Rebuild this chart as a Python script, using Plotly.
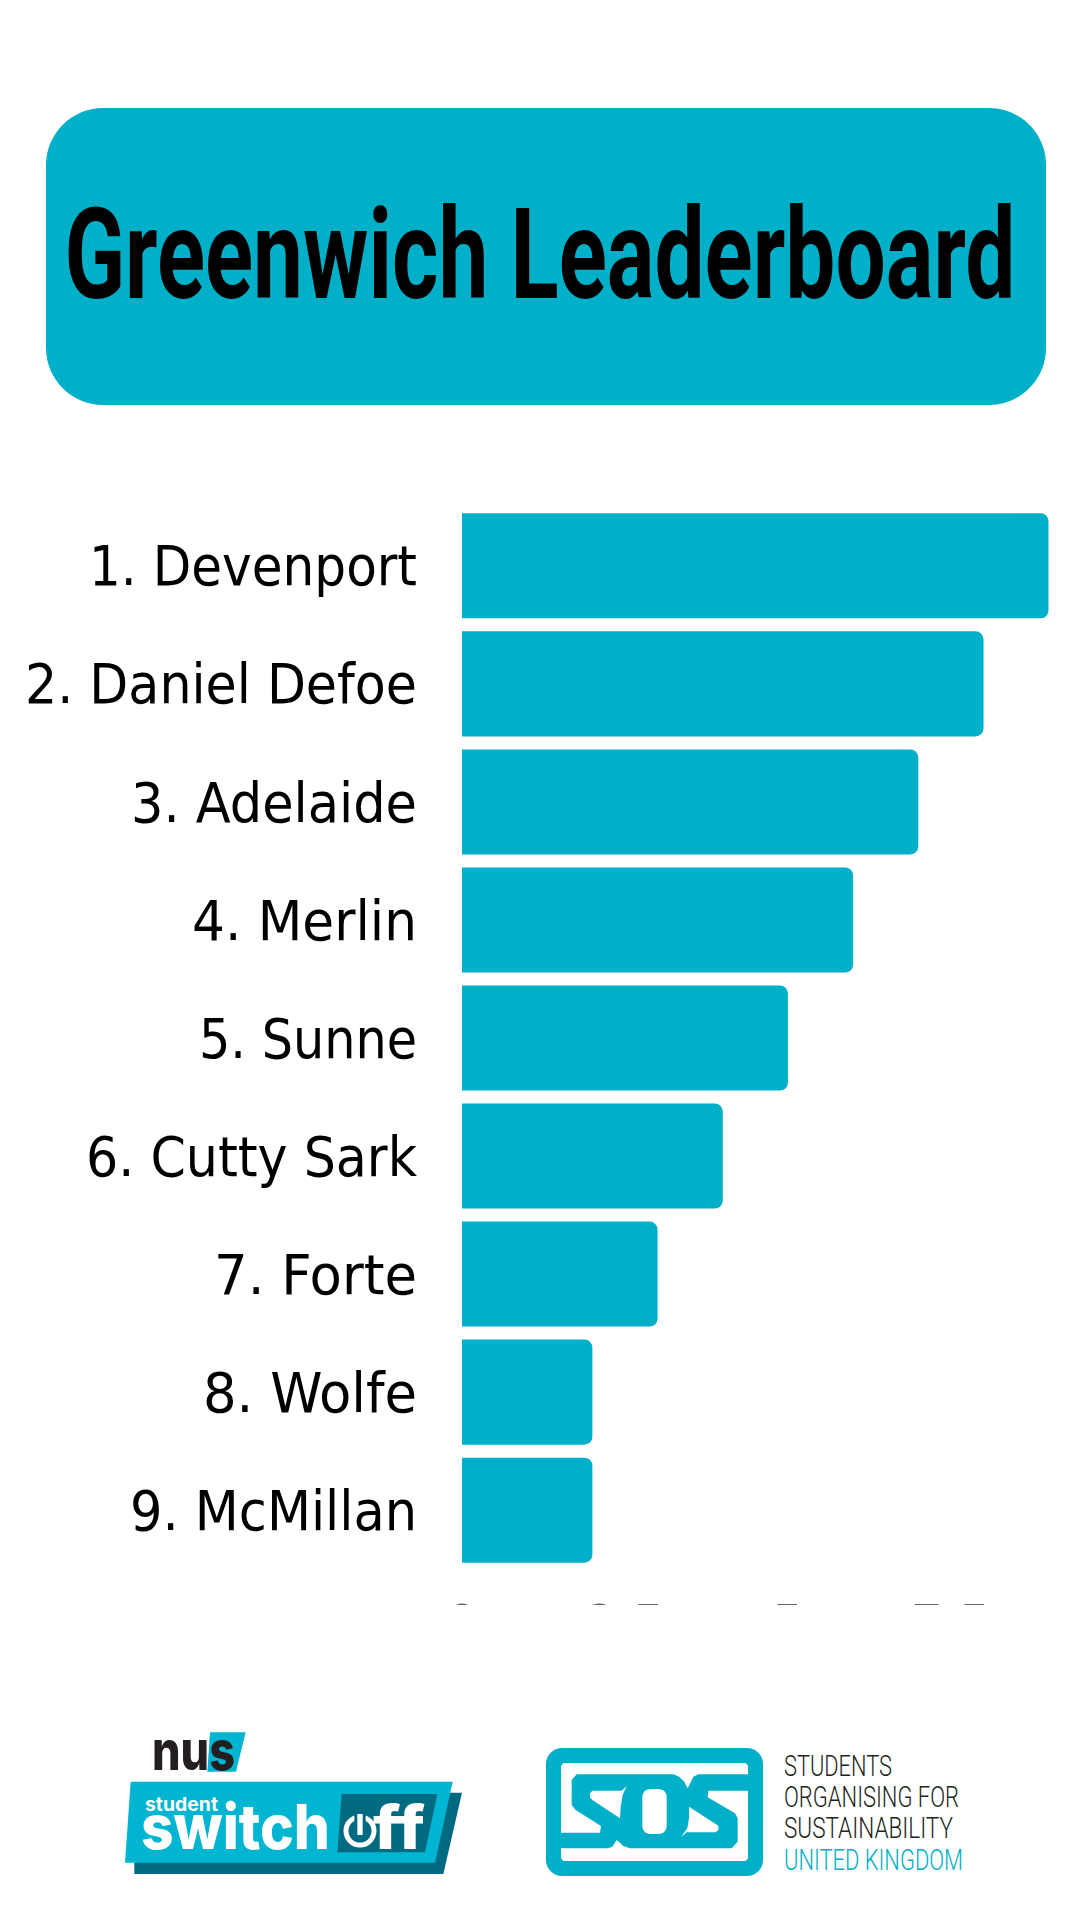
import plotly.graph_objects as go

W, H = 1080, 1920
TEAL = "#00AFC8"
BAND = "#00B5D1"
DARK = "#006A80"

names = ["1. Devenport", "2. Daniel Defoe", "3. Adelaide", "4. Merlin", "5. Sunne",
         "6. Cutty Sark", "7. Forte", "8. Wolfe", "9. McMillan"]
scores = [9, 8, 7, 6, 5, 4, 3, 2, 2]
score_ticks = [0, 2.5, 5, 7.5]
score_tick_labels = ["0", "2.5", "5", "7.5"]
sos_lines = ["STUDENTS", "ORGANISING FOR", "SUSTAINABILITY", "UNITED KINGDOM"]

LABEL_FONT = "DejaVu Sans Condensed, DejaVu Sans"

# pixel widths of the lettering, the original faces are not installed here
fit_widths = {
    "Greenwich Leaderboard": 951, "nus": 83, "student": 73, "switch": 189, "ff": 52,
    "STUDENTS": 108, "ORGANISING FOR": 175, "SUSTAINABILITY": 169, "UNITED KINGDOM": 179,
    "1. Devenport": 328, "2. Daniel Defoe": 392, "3. Adelaide": 286, "4. Merlin": 225,
    "5. Sunne": 218, "6. Cutty Sark": 331, "7. Forte": 203, "8. Wolfe": 214, "9. McMillan": 287,
}


def px(x):
    return x / W


def py(y):
    return 1 - y / H


# logo artwork is traced in crop coordinates, so each call gets the crop origin
def poly(points, color, ox, oy, s=3):
    pts = [(px(ox + x / s), py(oy + y / s)) for x, y in points]
    path = "M " + " L ".join(f"{x:.5f},{y:.5f}" for x, y in pts) + " Z"
    return dict(type="path", xref="paper", yref="paper", path=path,
                fillcolor=color, line=dict(width=0), layer="above")


def round_rect(x0, y0, x1, y1, r, color):
    X0, X1, Y0, Y1 = px(x0), px(x1), py(y0), py(y1)
    rx, ry = r / W, r / H
    kx, ky = rx * 0.45, ry * 0.45  # control point inset for a near circular corner
    path = (f"M {X0 + rx},{Y0} L {X1 - rx},{Y0} C {X1 - kx},{Y0} {X1},{Y0 - ky} {X1},{Y0 - ry} "
            f"L {X1},{Y1 + ry} C {X1},{Y1 + ky} {X1 - kx},{Y1} {X1 - rx},{Y1} "
            f"L {X0 + rx},{Y1} C {X0 + kx},{Y1} {X0},{Y1 + ky} {X0},{Y1 + ry} "
            f"L {X0},{Y0 - ry} C {X0},{Y0 - ky} {X0 + kx},{Y0} {X0 + rx},{Y0} Z")
    return dict(type="path", xref="paper", yref="paper", path=path,
                fillcolor=color, line=dict(width=0), layer="above")


def label(x, y, text, size, color="#000000", family="Roboto", anchor="left", weight=400):
    return dict(x=px(x), y=py(y), xref="paper", yref="paper", text=text, showarrow=False,
                xanchor=anchor, yanchor="middle", align=anchor,
                font=dict(size=size, color=color, family=family, weight=weight),
                borderpad=0, borderwidth=0)


fig = go.Figure()
fig.add_trace(go.Bar(y=names, x=scores, orientation="h", marker=dict(color=TEAL, line=dict(width=0))))

shapes = [
    # the white block hides most of the value axis labels, as in the original
    dict(type="rect", xref="paper", yref="paper", x0=0, x1=1, y0=0, y1=py(1605),
         fillcolor="white", line=dict(width=0), layer="above"),
    round_rect(46, 108, 1046, 405, 57, TEAL),
]

# NUS student switch off logo
L = (110, 1720)
shapes += [
    poly([(300, 37), (407, 37), (378, 155), (292, 155)], BAND, *L),
    poly([(73, 420), (73, 462), (1000, 462), (1056, 218), (1000, 218)], DARK, *L),
    poly([(62, 185), (1028, 185), (975, 428), (45, 428)], BAND, *L),
    poly([(695, 222), (982, 222), (945, 397), (682, 397)], DARK, *L),
    dict(type="circle", xref="paper", yref="paper",
         x0=px(110 + 708 / 3), x1=px(110 + 792 / 3), y0=py(1720 + 375 / 3), y1=py(1720 + 291 / 3),
         line=dict(color="white", width=5), fillcolor="rgba(0,0,0,0)", layer="above"),
    poly([(733, 270), (767, 270), (767, 310), (733, 310)], DARK, *L),
    poly([(742, 282), (758, 282), (758, 345), (742, 345)], "white", *L),
]

# SOS logo
S = (555, 1760)
shapes += [
    round_rect(546, 1748, 763, 1876, 16, TEAL),
    round_rect(561, 1763, 748, 1861, 4, "white"),
    poly([(50, 60), (65, 43), (355, 43), (372, 50), (388, 65), (398, 85), (415, 50), (430, 43),
          (580, 43), (580, 92), (460, 92), (458, 112), (540, 160), (548, 175), (548, 245),
          (530, 265), (225, 265), (205, 258), (195, 248), (185, 240), (172, 260), (160, 265),
          (15, 265), (15, 218), (135, 218), (138, 198), (62, 150), (50, 135)], TEAL, *S),
    poly([(105, 100), (112, 92), (200, 92), (215, 78), (203, 105), (197, 140), (195, 175),
          (112, 120), (105, 112)], "white", *S),
    poly([(378, 232), (395, 217), (482, 217), (490, 210), (490, 197), (402, 140),
          (402, 175), (397, 205)], "white", *S),
    round_rect(555 + 262 / 3, 1760 + 87 / 3, 555 + 335 / 3, 1760 + 222 / 3, 8, "white"),
]

annotations = [
    label(540, 254, "Greenwich Leaderboard", 127, anchor="center", weight=700),
    label(110 + 127 / 3, 1750, "nus", 55, color="#231F20", family="Inter", weight=800),
    label(110 + 105 / 3, 1804, "student", 19, color="white", family="Inter", weight=700),
    label(110 + 93 / 3, 1826, "switch", 62, color="white", family="Inter", weight=800),
    label(110 + 790 / 3, 1827, "ff", 60, color="white", family="Inter", weight=800),
]
sos_centres = [1765, 1796, 1827, 1859]
for i, line in enumerate(sos_lines):
    annotations.append(label(784, sos_centres[i], line, 30, weight=300,
                             color=TEAL if i == 3 else "#231F20"))

fig.update_layout(
    width=W, height=H, autosize=False,
    margin=dict(l=0, r=0, t=0, b=0),
    paper_bgcolor="white", plot_bgcolor="white",
    showlegend=False, bargap=0.11, barcornerradius=8,
    xaxis=dict(domain=[px(462), px(1048.7)], range=[0, 9], showgrid=False, zeroline=False,
               showline=False, automargin=False, tickmode="array", tickvals=score_ticks,
               ticktext=score_tick_labels,
               tickfont=dict(family=LABEL_FONT, size=56, color="#666666"),
               ticklabelstandoff=18),
    yaxis=dict(domain=[py(1569.2), py(506.8)], autorange="reversed", showgrid=False,
               zeroline=False, showline=False, automargin=False, type="category",
               tickfont=dict(family=LABEL_FONT, size=56, color="#000000"),
               ticklabelstandoff=44),
    shapes=shapes,
    annotations=annotations,
)

fit_js = """
document.body.style.margin = '0';
var fits = %s;
document.querySelectorAll('.annotation-text, .ytick text').forEach(function (t) {
    var w = fits[t.textContent];
    if (w) {
        t.setAttribute('textLength', w);
        t.setAttribute('lengthAdjust', 'spacingAndGlyphs');
    }
});
""" % str(fit_widths)

fig.write_html("out.html", post_script=fit_js, config={"displayModeBar": False})
